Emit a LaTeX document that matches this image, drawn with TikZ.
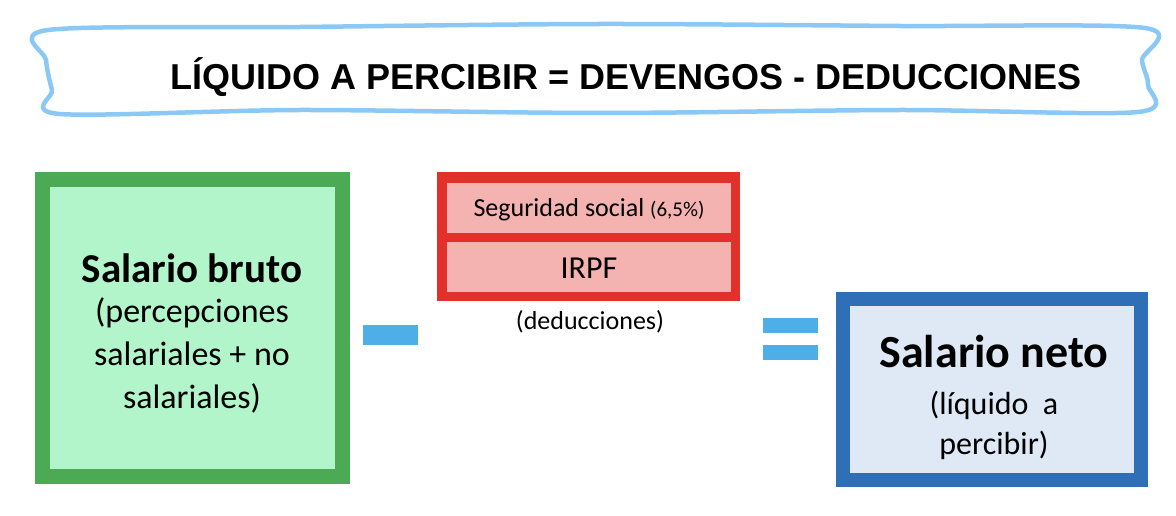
\documentclass[tikz,border=0pt]{standalone}
\usepackage{fontspec}
\setmainfont{Carlito}
\newfontfamily\arialf{Liberation Sans}
\definecolor{gbord}{HTML}{4CAA55}\definecolor{gfill}{HTML}{B3F5CB}
\definecolor{rbord}{HTML}{E2302A}\definecolor{rfill}{HTML}{F4B3B0}
\definecolor{bbord}{HTML}{2E6FB8}\definecolor{bfill}{HTML}{DEE9F5}
\definecolor{lblue}{HTML}{8CC8F5}\definecolor{opblue}{HTML}{4DAEE8}
\tikzset{lbl/.style={align=center,inner sep=0pt}}
\begin{document}
\begin{tikzpicture}[x=1pt,y=-1pt]
\useasboundingbox (0,0) rectangle (1176,516);
% title wavy box
\draw[lblue,line width=4.5pt,line join=round] plot[smooth cycle,tension=0.5] coordinates{
(48,30)(300,27)(600,24)(900,26)(1145,28)(1142,60)(1148,85)(1138,112)(900,110)(600,113)(300,110)(60,114)(52,90)(46,60)};
\node[lbl,font=\arialf\bfseries\fontsize{36}{40}\selectfont] (title) at (626,77) {LÍQUIDO A PERCIBIR = DEVENGOS - DEDUCCIONES};
% green
\draw[gbord,fill=gfill,line width=15pt] (42,180) rectangle (342,476);
\node[lbl,font=\bfseries\fontsize{41}{46}\selectfont] (bruto) at (192,268) {Salario bruto};
\node[lbl,font=\fontsize{34}{43}\selectfont] (brutot) at (192,355) {(percepciones\\salariales + no\\salariales)};
% minus
\fill[opblue] (363,325) rectangle (418,345);
\node[inner sep=0pt] (minus) at (390,335) {};
% red
\fill[rbord] (437,172) rectangle (740,301);
\fill[rfill] (447,183) rectangle (731,233);
\fill[rfill] (447,242) rectangle (731,292);
\node[lbl,font=\fontsize{26}{30}\selectfont] (ss) at (589,210) {Seguridad social {\fontsize{21}{24}\selectfont(6,5\%)}};
\node[lbl,font=\fontsize{32}{36}\selectfont] (irpf) at (589,268) {IRPF};
\node[lbl,font=\fontsize{26}{30}\selectfont] (ded) at (590,322) {(deducciones)};
% equal
\fill[opblue] (763,318) rectangle (818,333);
\fill[opblue] (763,345) rectangle (818,360);
% blue
\draw[bbord,fill=bfill,line width=14pt] (843,299) rectangle (1141,480);
\node[lbl,font=\bfseries\fontsize{46}{50}\selectfont] (neto) at (994,352) {Salario neto};
\node[lbl,font=\fontsize{32}{40}\selectfont] (netot) at (994,425) {(líquido\ \ a\\percibir)};
\end{tikzpicture}
\end{document}
